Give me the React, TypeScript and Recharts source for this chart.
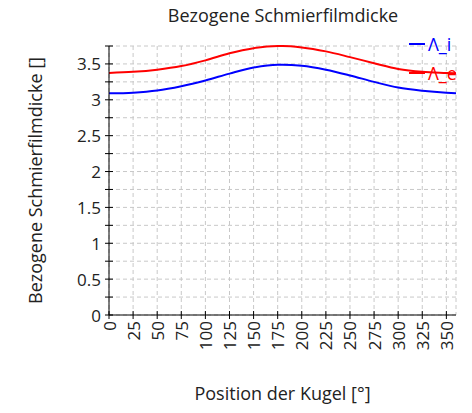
import { LineChart, Line, XAxis, YAxis, CartesianGrid } from 'recharts';

const angles = [0, 25, 50, 75, 100, 125, 150, 175, 180, 200, 225, 250, 275, 300, 325, 350, 360];
const lambdaI = [3.09, 3.1, 3.13, 3.19, 3.27, 3.365, 3.45, 3.49, 3.49, 3.475, 3.42, 3.34, 3.25, 3.17, 3.125, 3.097, 3.09];
const lambdaE = [3.375, 3.39, 3.42, 3.47, 3.55, 3.65, 3.72, 3.75, 3.75, 3.73, 3.675, 3.595, 3.51, 3.43, 3.39, 3.375, 3.37];

const seriesNames = ['Λ_i', 'Λ_e'];
const seriesColors = ['#0000ff', '#ff0000'];

const xTicks = [0, 25, 50, 75, 100, 125, 150, 175, 200, 225, 250, 275, 300, 325, 350];
const yTicks = [0, 0.25, 0.5, 0.75, 1, 1.25, 1.5, 1.75, 2, 2.25, 2.5, 2.75, 3, 3.25, 3.5, 3.75];
const yLabelled = [0, 0.5, 1, 1.5, 2, 2.5, 3, 3.5];

const chartData = angles.map((a, i) => ({ angle: a, li: lambdaI[i], le: lambdaE[i] }));

const FONT = '"Open Sans", sans-serif';

function YTick(props: any) {
  const { x, y, payload } = props;
  const v = payload.value as number;
  return (
    <g>
      <line x1={x - 4} x2={x + 4} y1={y} y2={y} stroke="#000" />
      {yLabelled.includes(v) && (
        <text x={x - 8} y={y} textAnchor="end" dominantBaseline="central" fontSize={17} fontFamily={FONT} fill="#222">
          {String(v)}
        </text>
      )}
    </g>
  );
}

function XTick(props: any) {
  const { x, y, payload } = props;
  return (
    <g>
      <line x1={x} x2={x} y1={y - 4} y2={y + 4} stroke="#000" />
      <text
        x={x}
        y={y + 6}
        transform={`rotate(-90 ${x} ${y + 6})`}
        textAnchor="end"
        dominantBaseline="central"
        fontSize={17}
        fontFamily={FONT}
        fill="#222"
      >
        {String(payload.value)}
      </text>
    </g>
  );
}

export default function App() {
  return (
    <div style={{ position: 'absolute', left: 0, top: 0, width: 472, height: 413, background: '#fff', fontFamily: FONT }}>
      <LineChart width={472} height={413} data={chartData} margin={{ top: 46, right: 16, bottom: 0, left: 0 }}>
        <CartesianGrid stroke="#c8c8c8" strokeDasharray="4 3" />
        <XAxis
          dataKey="angle"
          type="number"
          domain={[0, 360]}
          ticks={xTicks}
          interval={0}
          height={98}
          tickSize={0}
          tickMargin={0}
          tick={<XTick />}
          axisLine={{ stroke: '#000' }}
          label={{
            content: (p: any) => {
              const vb = p.viewBox;
              return (
                <text x={vb.x + vb.width / 2} y={vb.y + 78} textAnchor="middle" dominantBaseline="central" fontSize={18} fontFamily={FONT} fill="#222">
                  Position der Kugel [°]
                </text>
              );
            },
          }}
        />
        <YAxis
          type="number"
          domain={[0, 3.75]}
          ticks={yTicks}
          interval={0}
          width={109}
          tickSize={0}
          tickMargin={0}
          tick={<YTick />}
          axisLine={{ stroke: '#000' }}
          label={{
            content: (p: any) => {
              const vb = p.viewBox;
              const cx = vb.x + 35;
              const cy = vb.y + vb.height / 2;
              return (
                <text x={cx} y={cy} transform={`rotate(-90 ${cx} ${cy})`} textAnchor="middle" dominantBaseline="central" fontSize={18} fontFamily={FONT} fill="#222">
                  Bezogene Schmierfilmdicke []
                </text>
              );
            },
          }}
        />
        <Line dataKey="li" name={seriesNames[0]} type="monotone" stroke={seriesColors[0]} strokeWidth={2} dot={false} isAnimationActive={false} />
        <Line dataKey="le" name={seriesNames[1]} type="monotone" stroke={seriesColors[1]} strokeWidth={2} dot={false} isAnimationActive={false} />
      </LineChart>
      <div style={{ position: 'absolute', left: 0, top: 3, width: 566, textAlign: 'center', fontSize: 18, lineHeight: '24px', color: '#222' }}>
        Bezogene Schmierfilmdicke
      </div>
      <div style={{ position: 'absolute', left: 409, top: 29 }}>
        {seriesNames.map((n, i) => (
          <div key={n} style={{ display: 'flex', alignItems: 'center', height: 29, fontSize: 18, color: seriesColors[i] }}>
            <span style={{ display: 'inline-block', width: 16, height: 2, background: seriesColors[i], marginRight: 3 }} />
            <span>{n}</span>
          </div>
        ))}
      </div>
    </div>
  );
}
